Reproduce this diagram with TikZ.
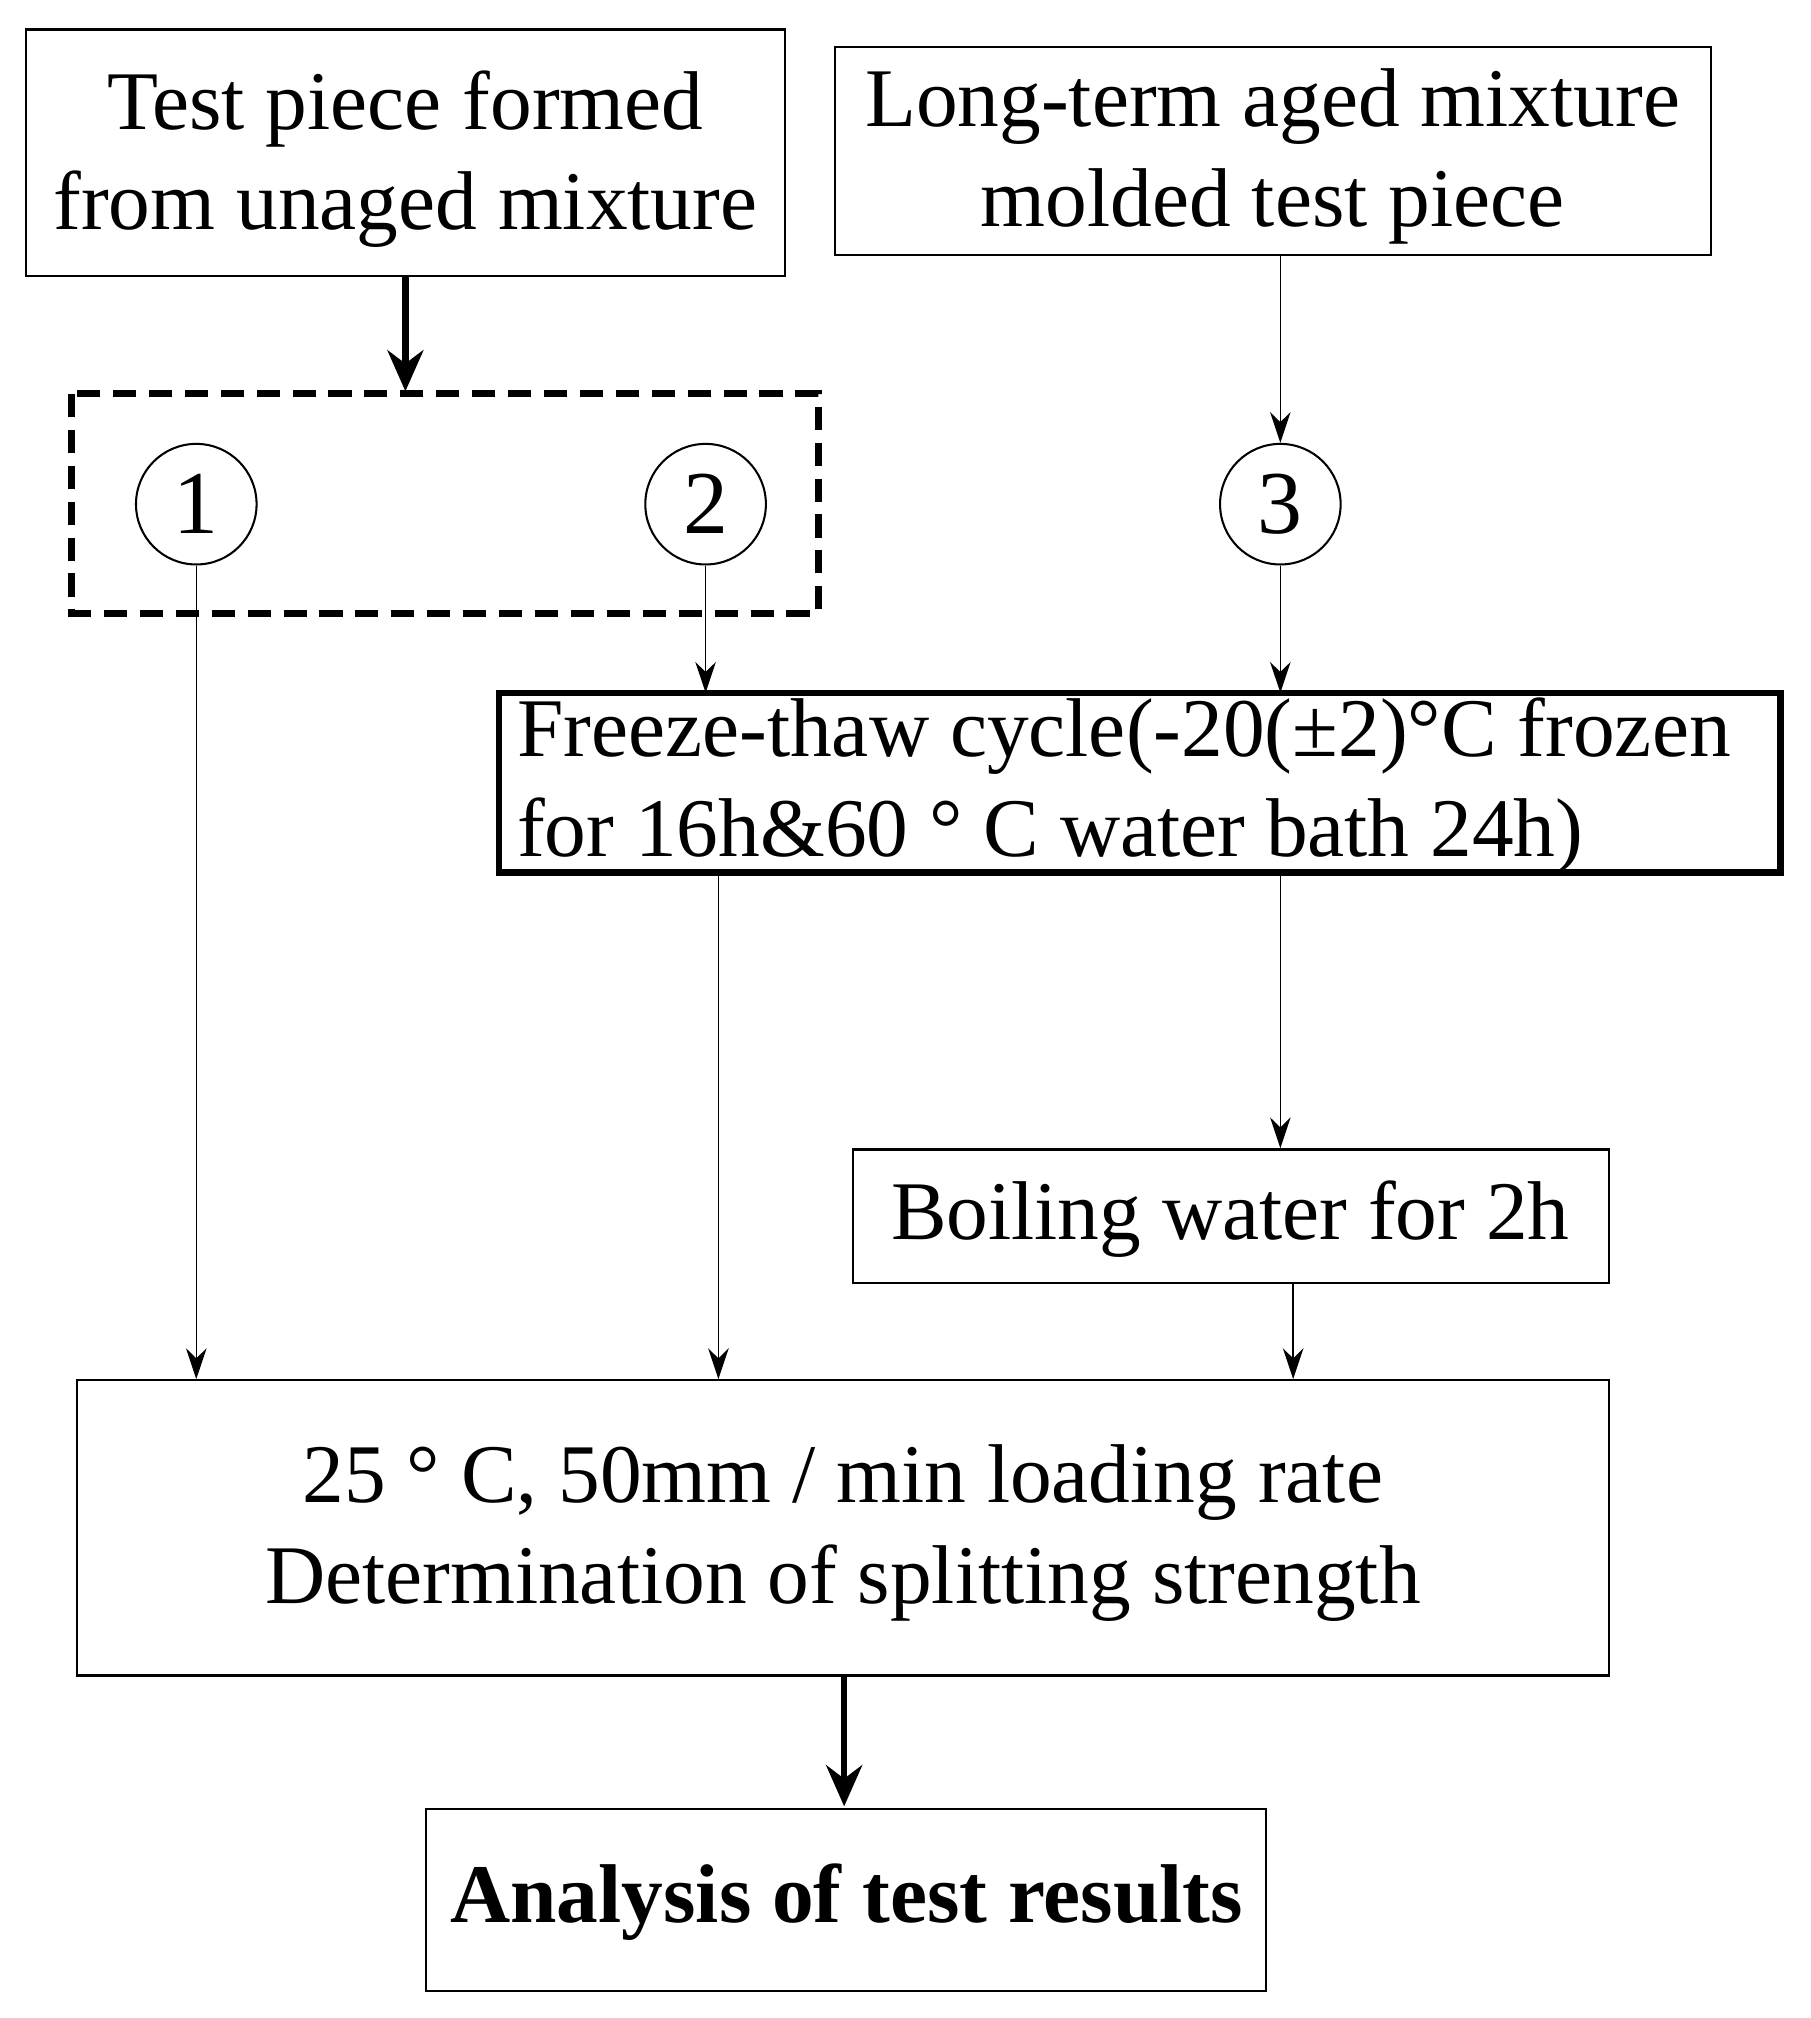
\documentclass[tikz,border=0pt]{standalone}
\usepackage{fontspec}
\setmainfont{Liberation Serif}
\usetikzlibrary{arrows.meta}
\begin{document}
\begin{tikzpicture}[x=0.5pt,y=-0.5pt,
  box/.style={draw,line width=0.8pt,inner sep=0pt},
  txt/.style={font=\fontsize{32.5}{39}\selectfont,align=center},
  circ/.style={draw,circle,minimum size=47pt,inner sep=0pt,line width=0.8pt,font=\fontsize{35}{40}\selectfont},
  thin/.style={line width=0.6pt,-{Stealth[length=12pt,width=8pt]}},
  thick/.style={line width=2.5pt,-{Stealth[length=16pt,width=14pt]}}]
\useasboundingbox (0,0) rectangle (1411,1573);
\draw[box] (20,23) rectangle (612,215);
\node[txt] (a) at (316,124) {Test piece formed\\from unaged mixture};
\coordinate (abot) at (316,215);
\draw[box] (651,37) rectangle (1334,199);
\node[txt] (b) at (992,122) {Long-term aged mixture\\molded test piece};
\coordinate (bbot) at (998,199);
\draw[line width=2.8pt,dash pattern=on 9pt off 5pt] (56,307) rectangle (638,478);
\coordinate (dtop) at (316,305);
\node[circ] (c1) at (153,393) {1};
\node[circ] (c2) at (550,393) {2};
\node[circ] (c3) at (998,393) {3};
\draw[line width=2.5pt] (389,540) rectangle (1388,680);
\node[txt,align=left,anchor=west] (f) at (396,613) {Freeze-thaw cycle(-20(±2)°C frozen\\for 16h\&60 ° C water bath 24h)};
\draw[box] (665,896) rectangle (1254,1000);
\node[txt] (bw) at (959,950) {Boiling water for 2h};
\draw[box] (60,1076) rectangle (1254,1306);
\node[txt] (m) at (657,1195) {25 ° C, 50mm / min loading rate\\Determination of splitting strength};
\draw[box] (332,1410) rectangle (987,1552);
\node[txt,font=\fontsize{32.5}{39}\selectfont\bfseries] (r) at (660,1483) {Analysis of test results};
\coordinate (mtop1) at (153,1075);
\coordinate (mtop2) at (560,1075);
\coordinate (mtop3) at (1008,1075);
\coordinate (ftop2) at (550,540);
\coordinate (ftop3) at (998,540);
\coordinate (fbot2) at (560,680);
\coordinate (fbot3) at (998,680);
\coordinate (bwtop) at (998,895);
\coordinate (bwbot) at (1008,1000);
\coordinate (mbot) at (658,1306);
\coordinate (rtop) at (658,1408);
\draw[thick] (abot) -- (dtop);
\draw[thin] (bbot) -- (c3.north);
\draw[thin] (c1.south) -- (mtop1);
\draw[thin] (c2.south) -- (ftop2);
\draw[thin] (c3.south) -- (ftop3);
\draw[thin] (fbot2) -- (mtop2);
\draw[thin] (fbot3) -- (bwtop);
\draw[thin] (bwbot) -- (mtop3);
\draw[thick] (mbot) -- (rtop);
\end{tikzpicture}
\end{document}
